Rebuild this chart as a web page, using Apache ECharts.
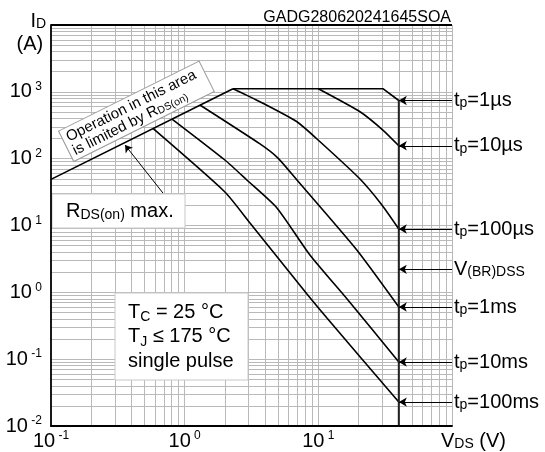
<!DOCTYPE html>
<html>
<head>
<meta charset="utf-8">
<script src="https://cdn.jsdelivr.net/npm/echarts@6/dist/echarts.min.js"></script>
<style>
html,body{margin:0;padding:0;background:#ffffff;}
#chart{width:545px;height:452px;}
</style>
</head>
<body>
<div id="chart"></div>
<script>
// ---------------- data ----------------
const xDecades = [0.1, 1, 10, 100];
const yDecades = [0.01, 0.1, 1, 10, 100, 1000, 10000];
const minorSteps = [1, 2, 3, 4, 5, 6, 7, 8, 9];
const vbrVoltage = 40;
const rdsLimit = [[0.1, 49], [2.3, 1114]];
const tp1us   = [[2.3, 1114], [30.4, 1114], [40, 742]];
const tp10us  = [[10, 1114], [20.5, 504], [30.4, 268], [40, 156]];
const tp100us = [[2.3, 1114], [3.66, 712], [6.92, 357], [10.3, 179], [20.5, 49.6], [29.9, 20.3], [40, 8.86]];
const tp1ms   = [[1.3, 635], [3.66, 166], [4.99, 102], [6.92, 47.9], [19.4, 4.3], [40, 0.603]];
const tp10ms  = [[0.804, 392], [2.0, 95.5], [2.92, 47.9], [4.9, 18.3], [8.65, 3.62], [16.65, 0.767], [40, 0.0907]];
const tp100ms = [[0.579, 283], [2.0, 31.7], [3.08, 10.9], [8.22, 0.944], [11.6, 0.413], [40, 0.0228]];
const vbrLimit = [[40, 742], [40, 0.01]];
const rightLabels = [['t','p','=1µs'], ['t','p','=10µs'], ['t','p','=100µs'], ['V','(BR)DSS',''], ['t','p','=1ms'], ['t','p','=10ms'], ['t','p','=100ms']];
const rightLabelCurrents = [742, 156, 8.86, 2.21, 0.603, 0.0907, 0.0228];
const rdsArrow = [[0.688, 30.6], [0.358, 160]];

// ---------------- chart ----------------
const FONT = '"Liberation Sans", Arial, Helvetica, sans-serif';
const nice = v => Number(v.toPrecision(6));
const xGrid = [], yGrid = [];
xDecades.slice(0, -1).forEach(d => minorSteps.forEach(m => xGrid.push(nice(m * d))));
xGrid.push(xDecades[xDecades.length - 1]);
yDecades.slice(0, -1).forEach(d => minorSteps.forEach(m => yGrid.push(nice(m * d))));

const gridLines = [
  ...xGrid.filter(v => v > xDecades[0]).map(v => ({xAxis: v})),
  ...yGrid.filter(v => v > yDecades[0]).map(v => ({yAxis: v})),
  {yAxis: yDecades[yDecades.length - 1], lineStyle: {color: '#000', width: 1.8}}
];

const labelRich = {
  big: {fontSize: 20, fontFamily: FONT, color: '#000', lineHeight: 22, verticalAlign: 'middle'},
  sup: {fontSize: 12, fontFamily: FONT, color: '#000', lineHeight: 12, verticalAlign: 'top'}
};
const powLabel = hideExp => v => {
  const e = Math.round(Math.log10(v));
  if (e === hideExp) return '';
  return '{big|10}{sup| ' + e + '}';
};

const gRich = {
  big: {fontSize: 20, fontFamily: FONT, fill: '#000', lineHeight: 20, verticalAlign: 'middle'},
  sub: {fontSize: 14, fontFamily: FONT, fill: '#000', lineHeight: 14, verticalAlign: 'bottom'}
};
const eRich = {
  big: {fontSize: 20, fontFamily: FONT, color: '#000', lineHeight: 20, verticalAlign: 'middle'},
  sub: {fontSize: 14, fontFamily: FONT, color: '#000', lineHeight: 14, verticalAlign: 'bottom'}
};

function curve(data, smooth) {
  return {
    type: 'line', data: data, showSymbol: false, symbol: 'none', silent: true,
    smooth: smooth, lineStyle: {color: '#000', width: 1.6}, z: 4, animation: false
  };
}

const chart = echarts.init(document.getElementById('chart'));
chart.setOption({
  animation: false,
  backgroundColor: '#fff',
  grid: {left: 51, top: 25, right: 93, bottom: 26, containLabel: false},
  xAxis: {
    type: 'log', logBase: 10, min: xDecades[0], max: xDecades[xDecades.length - 1], interval: 1,
    z: 6,
    axisLine: {show: true, onZero: false, lineStyle: {color: '#000', width: 1.8}},
    axisTick: {show: false}, splitLine: {show: false}, minorTick: {show: false},
    axisLabel: {margin: 4, formatter: powLabel(2), rich: labelRich}
  },
  yAxis: {
    type: 'log', logBase: 10, min: yDecades[0], max: yDecades[yDecades.length - 1], interval: 1,
    z: 6,
    axisLine: {show: true, onZero: false, lineStyle: {color: '#000', width: 1.8}},
    axisTick: {show: false}, splitLine: {show: false}, minorTick: {show: false},
    axisLabel: {margin: 9, formatter: powLabel(4), rich: labelRich}
  },
  series: [
    {
      type: 'line', data: vbrLimit, showSymbol: false, symbol: 'none', silent: true,
      lineStyle: {opacity: 0}, z: 1, animation: false,
      markLine: {
        silent: true, animation: false, z: 1, symbol: ['none', 'none'],
        label: {show: false},
        lineStyle: {color: '#b9b9b9', width: 1, type: 'solid'},
        emphasis: {disabled: true},
        data: gridLines
      }
    },
    Object.assign(curve(rdsLimit, false), {
      markLine: {
        silent: true, animation: false, symbol: ['none', 'arrow'], symbolSize: 7,
        label: {show: false}, lineStyle: {color: '#000', width: 1, type: 'solid'},
        emphasis: {disabled: true},
        data: [[{coord: rdsArrow[0]}, {coord: rdsArrow[1]}]]
      }
    }),
    curve(tp1us, false),
    curve(tp10us, 0.2),
    curve(tp100us, 0.2),
    curve(tp1ms, 0.2),
    curve(tp10ms, 0.2),
    curve(tp100ms, 0.2),
    {
      type: 'line', data: vbrLimit, showSymbol: false, symbol: 'none', silent: true,
      lineStyle: {color: '#222', width: 2}, z: 4, animation: false,
      markLine: {
        silent: true, animation: false, symbol: ['arrow', 'none'], symbolSize: [7, 8],
        lineStyle: {color: '#000', width: 1, type: 'solid'},
        emphasis: {disabled: true},
        label: {
          show: true, position: 'end', distance: 2, rich: eRich,
          formatter: p => {
            const r = rightLabels[p.dataIndex];
            return '{big|' + r[0] + '}{sub|' + r[1] + '}' + (r[2] ? '{big|' + r[2] + '}' : '');
          }
        },
        data: rightLabelCurrents.map(c => [{coord: [vbrVoltage, c]}, {coord: [xDecades[xDecades.length - 1], c]}])
      }
    }
  ],
  graphic: [
    {type: 'text', x: 30.5, y: 21, z: 7, style: {text: '{big|I}{sub|D}', rich: gRich, align: 'left', verticalAlign: 'middle'}},
    {type: 'text', x: 16.5, y: 44, z: 7, style: {text: '(A)', font: '20px ' + FONT, fill: '#000', align: 'left', verticalAlign: 'middle'}},
    {type: 'text', x: 441, y: 441, z: 7, style: {text: '{big|V}{sub|DS}{big| (V)}', rich: gRich, align: 'left', verticalAlign: 'middle'}},
    {type: 'text', x: 451, y: 18, z: 7, style: {text: 'GADG280620241645SOA', font: '16px ' + FONT, fill: '#000', align: 'right', verticalAlign: 'middle'}},
    {
      type: 'group', x: 136.4, y: 111.3, rotation: 0.4625, z: 3,
      children: [
        {type: 'rect', z: 3, shape: {x: -78.5, y: -17, width: 157, height: 34}, style: {fill: '#fff', stroke: '#9a9a9a', lineWidth: 1}},
        {type: 'text', z: 3, x: -74, y: 0.5, style: {
          text: '{n|Operation in this area}\n{n|is limited by R}{s|DS(on)}',
          rich: {
            n: {fontSize: 15, fontFamily: FONT, fill: '#000', lineHeight: 15, verticalAlign: 'middle'},
            s: {fontSize: 10.5, fontFamily: FONT, fill: '#000', lineHeight: 10, verticalAlign: 'bottom'}
          },
          align: 'left', verticalAlign: 'middle'}}
      ]
    },
    {type: 'rect', z: 3, shape: {x: 52, y: 194, width: 133, height: 34}, style: {fill: '#fff', stroke: '#c8c8c8', lineWidth: 1}},
    {type: 'text', z: 3, x: 66, y: 211, style: {
      text: '{big|R}{sub|DS(on)}{big| max.}',
      rich: {
        big: {fontSize: 20, fontFamily: FONT, fill: '#000', lineHeight: 22, verticalAlign: 'middle'},
        sub: {fontSize: 14, fontFamily: FONT, fill: '#000', lineHeight: 14, verticalAlign: 'bottom'}
      },
      align: 'left', verticalAlign: 'middle'}},
    {type: 'rect', z: 3, shape: {x: 115, y: 293, width: 133, height: 87}, style: {fill: '#fff', stroke: '#c8c8c8', lineWidth: 1}},
    {type: 'text', z: 3, x: 128, y: 299.75, style: {
      text: '{big|T}{sub|C}{big| = 25 °C}\n{big|T}{sub|J}{big| ≤ 175 °C}\n{big|single pulse}',
      rich: {
        big: {fontSize: 20, fontFamily: FONT, fill: '#000', lineHeight: 24.5, verticalAlign: 'middle'},
        sub: {fontSize: 14, fontFamily: FONT, fill: '#000', lineHeight: 14, verticalAlign: 'bottom'}
      },
      align: 'left', verticalAlign: 'top'}}
  ]
});
</script>
</body>
</html>
